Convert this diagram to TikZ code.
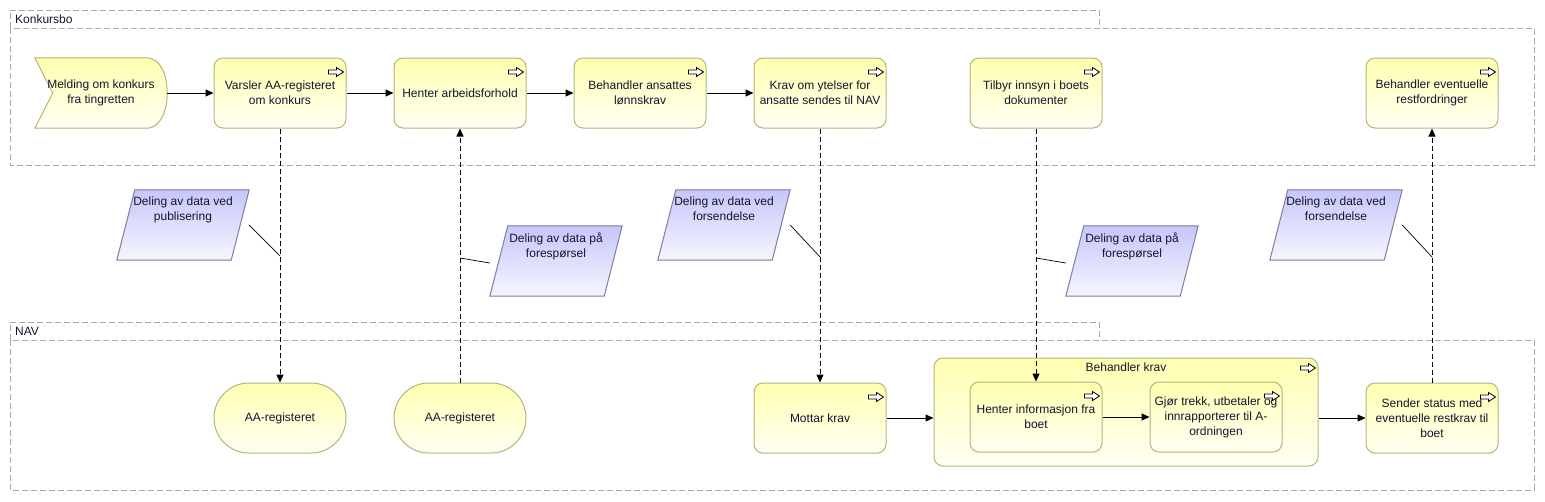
\documentclass[tikz,border=0pt]{standalone}
\usepackage{fontspec}
\setmainfont{Liberation Sans}
\usetikzlibrary{arrows.meta,positioning,backgrounds}

\definecolor{actTop}{HTML}{FFFFB0}
\definecolor{actBot}{HTML}{FFFFF4}
\definecolor{actLine}{HTML}{B4B47C}
\definecolor{dataTop}{HTML}{C6C6FA}
\definecolor{dataBot}{HTML}{F6F6FF}
\definecolor{dataLine}{HTML}{7C7CA4}
\definecolor{poolLine}{HTML}{A8A8A8}
\definecolor{txt}{HTML}{141432}

\tikzset{
  every node/.style={font=\fontsize{12}{15}\selectfont, text=txt},
  activity/.style={rectangle, rounded corners=9pt, draw=actLine, line width=1pt,
    top color=actTop, bottom color=actBot, minimum width=132pt, minimum height=70pt,
    align=center, inner sep=2pt},
  register/.style={activity, rounded corners=34.9pt},
  databox/.style={rectangle, minimum width=114pt, minimum height=70pt, inner sep=0pt},
  datashape/.style={draw=dataLine, line width=1pt, top color=dataTop, bottom color=dataBot},
  datatext/.style={align=center, inner sep=1pt},
  flow/.style={-{Triangle[length=8pt,width=7pt]}, line width=1pt, black},
  infoflow/.style={flow, dash pattern=on 5pt off 3pt},
  note/.style={black, line width=0.7pt},
  pool/.style={draw=poolLine, line width=1pt, dash pattern=on 6pt off 3pt},
  marker/.style={draw=black, fill=white, line width=0.8pt},
}

% small process arrow in the upper right corner
\newcommand{\actionmark}[1]{%
  \draw[marker] ([shift={(-18,12.5)}]#1.north east) -- ++(8,0) -- ++(0,-2.5)
    -- ++(7,4.5) -- ++(-7,4.5) -- ++(0,-2.5) -- ++(-8,0) -- cycle;}
% slanted data box round a node
\newcommand{\dataslant}[1]{%
  \path[datashape] ([xshift=-9pt]#1.south west) -- ([xshift=-9pt]#1.south east)
    -- ([xshift=9pt]#1.north east) -- ([xshift=9pt]#1.north west) -- cycle;}

\begin{document}
\begin{tikzpicture}[x=1pt,y=-1pt]
  \useasboundingbox (0,0) rectangle (1545,501);

  % pools
  \draw[pool] (10,28) -- (10,10) -- (1099,10) -- (1099,28);
  \draw[pool] (10,28) rectangle (1534,165);
  \node[anchor=west, inner sep=0pt] (konkursbo) at (15,19) {Konkursbo};

  \draw[pool] (10,340) -- (10,322) -- (1099,322) -- (1099,340);
  \draw[pool] (10,340) rectangle (1534,490);
  \node[anchor=west, inner sep=0pt] (nav) at (15,331) {NAV};

  % Konkursbo
  \node[minimum width=132pt, minimum height=70pt, align=center, inner sep=0pt]
    (melding) at (101,93) {Melding om konkurs\\fra tingretten};
  \begin{scope}[on background layer]
    \draw[draw=actLine, line width=1pt, top color=actTop, bottom color=actBot]
      (melding.north west) -- ([xshift=-21pt]melding.north east)
      .. controls ([xshift=-6pt]melding.north east) and ([yshift=17pt]melding.east) .. (melding.east)
      .. controls ([yshift=-17pt]melding.east) and ([xshift=-6pt]melding.south east) .. ([xshift=-21pt]melding.south east)
      -- (melding.south west) -- ([xshift=18pt]melding.west) -- cycle;
  \end{scope}

  \node[activity] (varsler) at (280,93) {Varsler AA-registeret\\om konkurs};
  \node[activity] (arbeid) at (460,93) {Henter arbeidsforhold};
  \node[activity] (lonn) at (640,93) {Behandler ansattes\\lønnskrav};
  \node[activity] (ytelser) at (820,93) {Krav om ytelser for\\ansatte sendes til NAV};
  \node[activity] (innsyn) at (1036,93) {Tilbyr innsyn i boets\\dokumenter};
  \node[activity] (rest) at (1432,93) {Behandler eventuelle\\restfordringer};

  % NAV
  \node[register] (aareg1) at (280,418) {AA-registeret};
  \node[register] (aareg2) at (460,418) {AA-registeret};
  \node[activity] (mottar) at (820,418) {Mottar krav};
  \node[activity, minimum width=384pt, minimum height=108pt] (krav) at (1126,412) {};
  \node[below=5pt of krav.north, inner sep=0pt] (kravtitle) {Behandler krav};
  \node[activity] (henterinfo) at (1036,417) {Henter informasjon fra\\boet};
  \node[activity] (trekk) at (1216,417) {Gjør trekk, utbetaler og\\innrapporterer til A-\\ordningen};
  \node[activity] (status) at (1432,418) {Sender status med\\eventuelle restkrav til\\boet};

  \foreach \n in {varsler,arbeid,lonn,ytelser,innsyn,rest,mottar,henterinfo,trekk,status}
    {\actionmark{\n}}
  \draw[marker] ([shift={(-18,8.5)}]krav.north east) -- ++(8,0) -- ++(0,-2.5)
    -- ++(7,4.5) -- ++(-7,4.5) -- ++(0,-2.5) -- ++(-8,0) -- cycle;

  % data sharing
  \node[databox] (pub) at (183,225) {};
  \node[databox] (foresp1) at (556,261) {};
  \node[databox] (forsend1) at (724,225) {};
  \node[databox] (foresp2) at (1132,261) {};
  \node[databox] (forsend2) at (1336,225) {};
  \foreach \n in {pub,foresp1,forsend1,foresp2,forsend2}
    {\dataslant{\n}}
  \node[datatext, below=6pt of pub.north] (pubtext) {Deling av data ved\\publisering};
  \node[datatext, below=6pt of foresp1.north] (foresp1text) {Deling av data på\\forespørsel};
  \node[datatext, below=6pt of forsend1.north] (forsend1text) {Deling av data ved\\forsendelse};
  \node[datatext, below=6pt of foresp2.north] (foresp2text) {Deling av data på\\forespørsel};
  \node[datatext, below=6pt of forsend2.north] (forsend2text) {Deling av data ved\\forsendelse};

  % flows
  \draw[flow] (melding.east) -- (varsler.west);
  \draw[flow] (varsler) -- (arbeid);
  \draw[flow] (arbeid) -- (lonn);
  \draw[flow] (lonn) -- (ytelser);
  \draw[flow] (mottar.east) -- (mottar.east -| krav.west);
  \draw[flow] (henterinfo) -- (trekk);
  \draw[flow] (krav.east |- status.west) -- (status.west);

  \draw[infoflow] (varsler.south) -- (aareg1.north);
  \draw[infoflow] (aareg2.north) -- (arbeid.south);
  \draw[infoflow] (ytelser.south) -- (mottar.north);
  \draw[infoflow] (innsyn.south) -- (henterinfo.north);
  \draw[infoflow] (status.north) -- (rest.south);

  \coordinate (j1) at (varsler.south |- 0,256);
  \coordinate (j2) at (arbeid.south |- 0,258);
  \coordinate (j3) at (ytelser.south |- 0,257);
  \coordinate (j4) at (innsyn.south |- 0,258);
  \coordinate (j5) at (rest.south |- 0,257);
  \draw[note] ([xshift=9pt]pub.east) -- (j1);
  \draw[note] (j2) -- ([shift={(-9,2)}]foresp1.west);
  \draw[note] ([xshift=9pt]forsend1.east) -- (j3);
  \draw[note] (j4) -- ([shift={(-9,2)}]foresp2.west);
  \draw[note] ([xshift=9pt]forsend2.east) -- (j5);
\end{tikzpicture}
\end{document}
